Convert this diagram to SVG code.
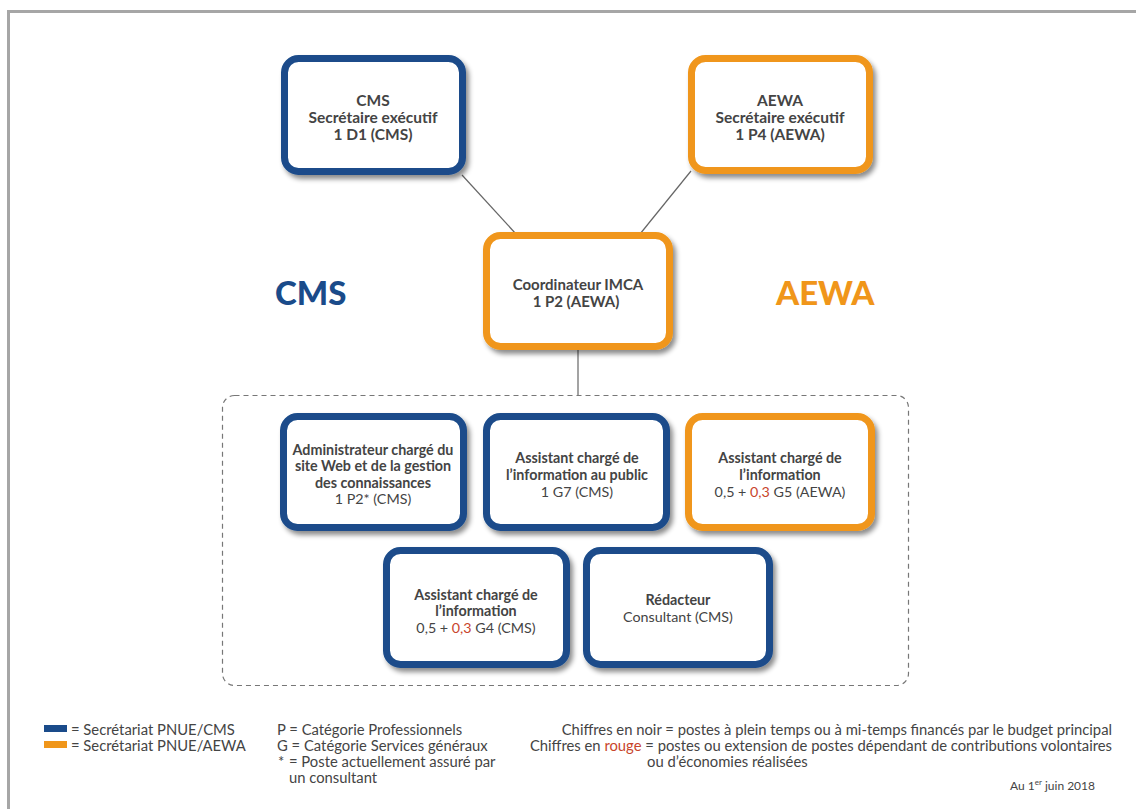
<svg xmlns="http://www.w3.org/2000/svg" width="1136" height="809" viewBox="0 0 1136 809">
<defs>
<filter id="sh" x="-10%" y="-10%" width="130%" height="130%">
<feDropShadow dx="3" dy="4" stdDeviation="2.5" flood-color="#000" flood-opacity="0.45"/>
</filter>
<style>
.box{fill:#fff;stroke-width:7;filter:url(#sh)}
.blue{stroke:#1a4b8a}
.orange{stroke:#f0961a}
.t{font-family:Lato,"Open Sans","Liberation Sans",sans-serif;font-size:14.3px;fill:#444;text-anchor:middle}
.top{font-size:15.5px}
.b{font-weight:bold}
.red{fill:#c8452c}
.lg{font-family:Lato,"Open Sans","Liberation Sans",sans-serif;font-size:14.8px;fill:#444}
.big{font-family:Lato,"Open Sans","Liberation Sans",sans-serif;font-size:33px;font-weight:900}
.conn{stroke:#666;stroke-width:1.2;fill:none}
</style>
</defs>
<rect width="1136" height="809" fill="#fff"/>
<polyline points="8.5,809 8.5,11.5 1136,11.5" fill="none" stroke="#a6a6a6" stroke-width="3"/>

<g id="connectors">
<line class="conn" x1="462" y1="175" x2="516" y2="234"/>
<line class="conn" x1="691" y1="171" x2="640" y2="234"/>
<line class="conn" x1="578" y1="350" x2="578" y2="395"/>
</g>

<g id="group-box">
<rect x="222.5" y="395.5" width="686" height="290" rx="12" fill="none" stroke="#777" stroke-width="1.2" stroke-dasharray="5,4"/>
</g>

<g id="label-cms"><text class="big" x="275" y="305" fill="#1a4b8a">CMS</text></g>
<g id="label-aewa"><text class="big" x="776" y="305" fill="#f0961a">AEWA</text></g>

<g id="node-cms-se">
<rect class="box blue" x="284.5" y="58.5" width="178" height="113" rx="14"/>
<text class="t top b" x="373" y="106">CMS</text>
<text class="t top b" x="373" y="123">Secrétaire exécutif</text>
<text class="t top b" x="373" y="140">1 D1 (CMS)</text>
</g>

<g id="node-aewa-se">
<rect class="box orange" x="691.5" y="58.5" width="178" height="112" rx="14"/>
<text class="t top b" x="780" y="106">AEWA</text>
<text class="t top b" x="780" y="123">Secrétaire exécutif</text>
<text class="t top b" x="780" y="140">1 P4 (AEWA)</text>
</g>

<g id="node-coord">
<rect class="box orange" x="486.5" y="235.5" width="183" height="111" rx="14"/>
<text class="t b" x="578" y="290" style="font-size:15px">Coordinateur IMCA</text>
<text class="t b" x="576" y="307" style="font-size:15px">1 P2 (AEWA)</text>
</g>

<g id="node-admin">
<rect class="box blue" x="283.5" y="416.5" width="180" height="111" rx="14"/>
<text class="t b" x="373" y="455">Administrateur chargé du</text>
<text class="t b" x="373" y="471">site Web et de la gestion</text>
<text class="t b" x="373" y="488">des connaissances</text>
<text class="t" x="373" y="504">1 P2* (CMS)</text>
</g>

<g id="node-public">
<rect class="box blue" x="486.5" y="416.5" width="180" height="111" rx="14"/>
<text class="t b" x="577" y="463">Assistant chargé de</text>
<text class="t b" x="577" y="480">l’information au public</text>
<text class="t" x="577" y="497">1 G7 (CMS)</text>
</g>

<g id="node-info-aewa">
<rect class="box orange" x="688.5" y="416.5" width="183" height="111" rx="14"/>
<text class="t b" x="780" y="463">Assistant chargé de</text>
<text class="t b" x="780" y="480">l’information</text>
<text class="t" x="780" y="497">0,5 + <tspan class="red">0,3</tspan> G5 (AEWA)</text>
</g>

<g id="node-info-cms">
<rect class="box blue" x="386.5" y="550.5" width="180" height="114" rx="14"/>
<text class="t b" x="476" y="600">Assistant chargé de</text>
<text class="t b" x="476" y="616">l’information</text>
<text class="t" x="476" y="633">0,5 + <tspan class="red">0,3</tspan> G4 (CMS)</text>
</g>

<g id="node-redacteur">
<rect class="box blue" x="586.5" y="550.5" width="183" height="114" rx="14"/>
<text class="t b" x="678" y="605">Rédacteur</text>
<text class="t" x="678" y="622">Consultant (CMS)</text>
</g>

<g id="legend">
<rect x="44" y="725" width="23" height="7" fill="#1a4b8a"/>
<rect x="44" y="741" width="23" height="7" fill="#f0961a"/>
<text class="lg" x="71" y="735">= Secrétariat PNUE/CMS</text>
<text class="lg" x="71" y="751">= Secrétariat PNUE/AEWA</text>
<text class="lg" x="277" y="735">P = Catégorie Professionnels</text>
<text class="lg" x="277" y="751">G = Catégorie Services généraux</text>
<text class="lg" x="278" y="767">*</text>
<text class="lg" x="289" y="767">= Poste actuellement assuré par</text>
<text class="lg" x="289" y="783">un consultant</text>
<text class="lg" x="1112" y="735" text-anchor="end">Chiffres en noir = postes à plein temps ou à mi-temps financés par le budget principal</text>
<text class="lg" x="1112" y="751" text-anchor="end">Chiffres en <tspan class="red">rouge</tspan> = postes ou extension de postes dépendant de contributions volontaires</text>
<text class="lg" x="647" y="767">ou d’économies réalisées</text>
<text class="lg" x="1095" y="790" text-anchor="end" style="font-size:12px">Au 1<tspan baseline-shift="super" style="font-size:8px">er</tspan> juin 2018</text>
</g>
</svg>
